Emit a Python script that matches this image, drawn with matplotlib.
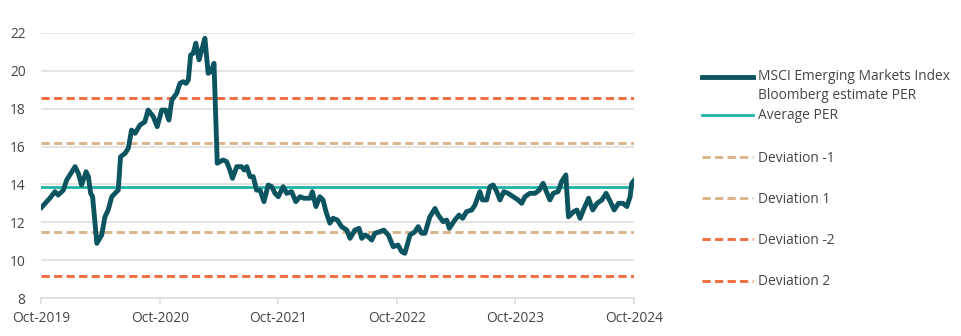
import matplotlib
matplotlib.use("Agg")
import matplotlib.pyplot as plt
import matplotlib.dates as mdates
import pandas as pd
from matplotlib.lines import Line2D
from matplotlib.legend_handler import HandlerLine2D

# MSCI EM index forward PER (Bloomberg estimate), read roughly every two weeks
dates = [
    "2019-10-03", "2019-10-28", "2019-11-13", "2019-11-23", "2019-12-09", "2019-12-19",
    "2019-12-29", "2020-01-14", "2020-01-24", "2020-02-03", "2020-02-17", "2020-02-24",
    "2020-03-02", "2020-03-08", "2020-03-21", "2020-04-05", "2020-04-15", "2020-04-25",
    "2020-05-06", "2020-05-16", "2020-05-26", "2020-06-02", "2020-06-16", "2020-06-26",
    "2020-07-06", "2020-07-17", "2020-08-01", "2020-08-16", "2020-08-26", "2020-09-11",
    "2020-09-23", "2020-10-07", "2020-10-19", "2020-10-29", "2020-11-07", "2020-11-22",
    "2020-12-02", "2020-12-12", "2020-12-21", "2020-12-28", "2021-01-04", "2021-01-12",
    "2021-01-20", "2021-01-30", "2021-02-07", "2021-02-17", "2021-02-27", "2021-03-08",
    "2021-03-17", "2021-03-27", "2021-04-04", "2021-04-14", "2021-04-25", "2021-05-03",
    "2021-05-13", "2021-05-26", "2021-06-10", "2021-06-18", "2021-06-26", "2021-07-06",
    "2021-07-16", "2021-07-26", "2021-08-06", "2021-08-18", "2021-08-31", "2021-09-11",
    "2021-09-21", "2021-10-01", "2021-10-16", "2021-10-27", "2021-11-11", "2021-11-24",
    "2021-12-07", "2021-12-19", "2022-01-07", "2022-01-14", "2022-01-25", "2022-02-06",
    "2022-02-16", "2022-02-25", "2022-03-09", "2022-03-19", "2022-04-01", "2022-04-14",
    "2022-04-30", "2022-05-10", "2022-05-25", "2022-06-07", "2022-06-15", "2022-06-25",
    "2022-07-05", "2022-07-16", "2022-07-26", "2022-08-10", "2022-08-22", "2022-09-05",
    "2022-09-20", "2022-10-05", "2022-10-16", "2022-10-26", "2022-11-11", "2022-11-26",
    "2022-12-06", "2022-12-17", "2022-12-27", "2023-01-11", "2023-01-27", "2023-02-06",
    "2023-02-21", "2023-03-04", "2023-03-12", "2023-03-29", "2023-04-11", "2023-04-22",
    "2023-05-04", "2023-05-20", "2023-05-30", "2023-06-14", "2023-06-22", "2023-07-05",
    "2023-07-15", "2023-07-25", "2023-08-05", "2023-08-15", "2023-08-27", "2023-09-09",
    "2023-09-25", "2023-10-10", "2023-10-21", "2023-10-31", "2023-11-15", "2023-12-01",
    "2023-12-14", "2023-12-26", "2024-01-05", "2024-01-16", "2024-01-26", "2024-02-10",
    "2024-02-21", "2024-03-05", "2024-03-13", "2024-03-29", "2024-04-08", "2024-04-18",
    "2024-04-28", "2024-05-14", "2024-05-27", "2024-06-09", "2024-06-24", "2024-07-07",
    "2024-07-20", "2024-08-01", "2024-08-14", "2024-08-28", "2024-09-09", "2024-09-19",
    "2024-09-24", "2024-10-01",
]
per = [
    12.79, 13.27, 13.62, 13.44, 13.70, 14.23,
    14.50, 14.94, 14.59, 13.97, 14.67, 14.41,
    13.53, 13.35, 10.89, 11.33, 12.29, 12.65,
    13.35, 13.53, 13.70, 15.46, 15.64, 15.91,
    16.87, 16.70, 17.14, 17.31, 17.93, 17.58,
    17.05, 17.93, 17.93, 17.40, 18.46, 18.81,
    19.34, 19.43, 19.34, 19.52, 20.84, 20.93,
    21.46, 20.58, 21.10, 21.72, 19.87, 19.96,
    20.40, 15.12, 15.20, 15.29, 15.20, 14.85,
    14.32, 14.94, 14.94, 14.76, 14.94, 14.41,
    14.41, 13.70, 13.70, 13.09, 13.97, 13.88,
    13.53, 13.35, 13.88, 13.53, 13.62, 13.09,
    13.35, 13.27, 13.27, 13.62, 12.83, 13.35,
    13.18, 12.56, 11.95, 12.21, 12.12, 11.77,
    11.59, 11.15, 11.59, 11.68, 11.15, 11.33,
    11.24, 11.06, 11.42, 11.50, 11.59, 11.33,
    10.71, 10.80, 10.45, 10.36, 11.33, 11.50,
    11.77, 11.42, 11.42, 12.29, 12.73, 12.38,
    12.03, 12.12, 11.68, 12.12, 12.38, 12.21,
    12.56, 12.65, 12.91, 13.62, 13.18, 13.18,
    13.88, 13.97, 13.62, 13.18, 13.62, 13.53,
    13.35, 13.18, 13.00, 13.35, 13.53, 13.53,
    13.70, 14.06, 13.62, 13.18, 13.53, 13.62,
    14.15, 14.50, 12.29, 12.56, 12.65, 12.21,
    12.65, 13.27, 12.65, 13.00, 13.18, 13.53,
    13.09, 12.65, 13.00, 13.00, 12.83, 13.35,
    14.06, 14.20,
]

avg_per = 13.86
dev_labels = ["Deviation -1", "Deviation 1", "Deviation -2", "Deviation 2"]
dev_levels = [11.51, 16.21, 9.16, 18.56]

C_MAIN = "#0d5461"
C_AVG = "#1fb3a6"
C_DEV1 = "#dbb48c"
C_DEV2 = "#f26d3d"
C_TEXT = "#454545"
C_GRID = "#dcdcdc"

plt.rcParams["font.family"] = ["Open Sans", "DejaVu Sans"]
FS = 9.9


class FirstLineHandler(HandlerLine2D):
    """Line handle lifted to sit beside the first line of a two-line label."""

    def __init__(self, lift, **kw):
        super().__init__(**kw)
        self.lift = lift

    def create_artists(self, legend, orig_handle, xdescent, ydescent,
                       width, height, fontsize, trans):
        arts = super().create_artists(legend, orig_handle, xdescent, ydescent,
                                      width, height, fontsize, trans)
        for a in arts:
            a.set_ydata([y + self.lift for y in a.get_ydata()])
        return arts


fig = plt.figure(figsize=(9.61, 3.36), dpi=100)
ax = fig.add_axes([41 / 961, 1 - 298 / 336, (634 - 41) / 961, (298 - 33) / 336])

x = pd.to_datetime(dates)
dash = (0, (2.8, 1.5))

dev_colors = [C_DEV1, C_DEV1, C_DEV2, C_DEV2]
for lvl, col in zip(dev_levels, dev_colors):
    ax.axhline(lvl, color=col, lw=2.1, ls=dash, zorder=3)
ax.axhline(avg_per, color=C_AVG, lw=2.0, zorder=4)
ax.plot(x, per, color=C_MAIN, lw=3.5, solid_joinstyle="round", zorder=5)

ax.set_xlim(pd.Timestamp("2019-10-01"), pd.Timestamp("2024-10-01"))
ax.set_ylim(8, 22)
ax.set_yticks(range(8, 23, 2))
ax.xaxis.set_major_locator(mdates.YearLocator(month=10, day=1))
ax.xaxis.set_major_formatter(mdates.DateFormatter("%b-%Y"))

ax.grid(axis="y", color=C_GRID, lw=1.1, zorder=0)
for side in ("top", "right", "left"):
    ax.spines[side].set_visible(False)
ax.spines["bottom"].set_color(C_GRID)
ax.spines["bottom"].set_linewidth(1.1)
ax.tick_params(axis="y", length=0, pad=11, labelsize=FS, labelcolor=C_TEXT)
ax.tick_params(axis="x", length=4, width=1.1, color=C_GRID, pad=5,
               labelsize=FS, labelcolor=C_TEXT)

# legend: series + average, then the deviation bands
main_handle = Line2D([], [], color=C_MAIN, lw=3.5)
top_handles = [main_handle, Line2D([], [], color=C_AVG, lw=2.0)]
top_labels = ["MSCI Emerging Markets Index\nBloomberg estimate PER", "Average PER"]
leg1 = fig.legend(top_handles, top_labels, loc="upper left",
                  bbox_to_anchor=(702 / 961, 1 - 69 / 336), frameon=False,
                  fontsize=FS, handlelength=3.7, handletextpad=0.36,
                  labelspacing=0.4, borderpad=0, borderaxespad=0,
                  labelcolor=C_TEXT,
                  handler_map={main_handle: FirstLineHandler(lift=6.8)})
for t in leg1.get_texts():
    t.set_linespacing(1.35)

dev_handles = [Line2D([], [], color=c, lw=2.1, ls=dash) for c in dev_colors]
leg2 = fig.legend(dev_handles, dev_labels, loc="upper left",
                  bbox_to_anchor=(702 / 961, 1 - 151 / 336), frameon=False,
                  fontsize=FS, handlelength=3.7, handletextpad=0.36,
                  labelspacing=1.9, borderpad=0, borderaxespad=0,
                  labelcolor=C_TEXT)

fig.savefig("out.png", dpi=100)
